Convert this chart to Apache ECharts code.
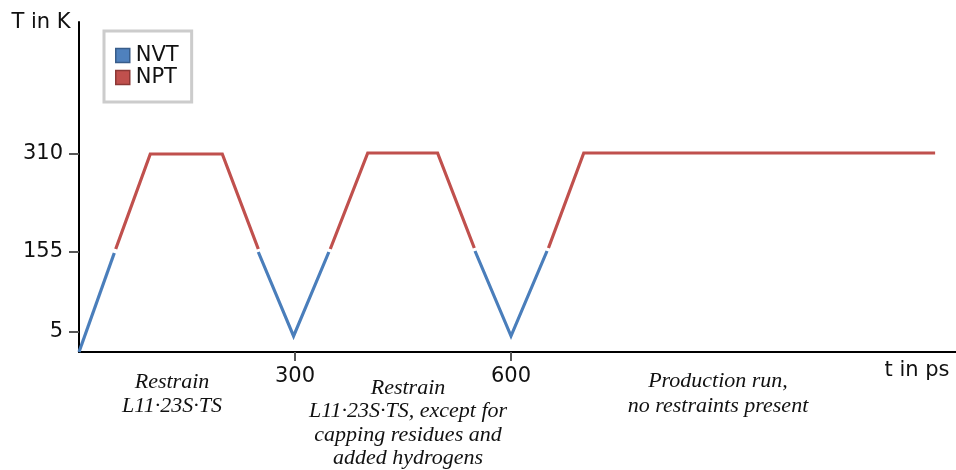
<!DOCTYPE html>
<html>
<head>
<meta charset="utf-8">
<script src="https://cdn.jsdelivr.net/npm/echarts@6/dist/echarts.min.js"></script>
<style>html,body{margin:0;padding:0;background:#fff}#c{width:956px;height:470px}</style>
</head>
<body>
<div id="c"></div>
<script>
// Schematic temperature protocol. The y axis of the original is a schematic
// (not linear in K); heights are read in drawn axis units, ticks labelled in K.
const xTickValues = [300, 600];
const xTickLabels = ['300', '600'];
const yTickLevels = [20, 100, 198.5];
const yTickLabels = ['5', '155', '310'];

// NVT segments: [t in ps, drawn level]
const nvtSeg1 = [[0, 0], [49, 99]];
const nvtSeg2 = [[249, 100], [298, 16], [347, 100]];
const nvtSeg3 = [[550, 101], [600, 16], [650, 101]];
// NPT segments
const nptSeg1 = [[51, 103], [99, 198], [199, 198], [249, 103]];
const nptSeg2 = [[349, 103], [401, 199], [498, 199], [549, 104]];
const nptSeg3 = [[652, 104], [701, 199], [1189, 199]];

const nvtSegments = [nvtSeg1, nvtSeg2, nvtSeg3];
const nptSegments = [nptSeg1, nptSeg2, nptSeg3];

const NVT_COLOR = '#4a7ebb';
const NPT_COLOR = '#c0504d';

const series = [];
nvtSegments.forEach(seg => series.push({
  name: 'NVT', type: 'line', data: seg, symbol: 'none', silent: true,
  lineStyle: { color: NVT_COLOR, width: 3.2, join: 'miter', cap: 'butt' },
  itemStyle: { color: NVT_COLOR }
}));
nptSegments.forEach(seg => series.push({
  name: 'NPT', type: 'line', data: seg, symbol: 'none', silent: true,
  lineStyle: { color: NPT_COLOR, width: 3.2, join: 'miter', cap: 'butt' },
  itemStyle: { color: NPT_COLOR }
}));

const sans = 'DejaVu Sans';
const serifItalic = 'italic 22px "Liberation Serif"';

const chart = echarts.init(document.getElementById('c'), null, { renderer: 'canvas' });
chart.setOption({
  animation: false,
  backgroundColor: '#ffffff',
  grid: { left: 79, right: 0, top: 22, bottom: 118, containLabel: false },
  xAxis: {
    type: 'value', min: 0, max: 1218,
    axisLine: { show: true, onZero: false, lineStyle: { color: '#000', width: 2 } },
    axisTick: { show: true, customValues: xTickValues, length: 9, lineStyle: { color: '#555', width: 2 } },
    axisLabel: {
      show: true, customValues: xTickValues, margin: 14,
      formatter: v => xTickLabels[xTickValues.indexOf(v)] || '',
      fontFamily: sans, fontSize: 21, color: '#111'
    },
    splitLine: { show: false }
  },
  yAxis: {
    type: 'value', min: 0, max: 330,
    axisLine: { show: true, onZero: false, lineStyle: { color: '#000', width: 2 } },
    axisTick: { show: true, customValues: yTickLevels, length: 10, lineStyle: { color: '#555', width: 2 } },
    axisLabel: {
      show: true, customValues: yTickLevels, margin: 16,
      formatter: v => yTickLabels[yTickLevels.indexOf(v)] || '',
      fontFamily: sans, fontSize: 21, color: '#111'
    },
    splitLine: { show: false }
  },
  legend: {
    left: 104, top: 31, orient: 'vertical',
    padding: [14, 13, 14, 11], itemGap: 1,
    itemWidth: 14, itemHeight: 14,
    borderColor: '#cccccc', borderWidth: 3,
    textStyle: { fontFamily: sans, fontSize: 21, color: '#111', padding: [0, 0, 0, 1] },
    selectedMode: false,
    data: [
      { name: 'NVT', icon: 'rect', itemStyle: { color: '#4f81bd', borderColor: '#385d8a', borderWidth: 1.5 } },
      { name: 'NPT', icon: 'rect', itemStyle: { color: '#c0504d', borderColor: '#8c3836', borderWidth: 1.5 } }
    ]
  },
  graphic: [
    { type: 'text', x: 41, y: 23, silent: true,
      style: { text: 'T in K', font: '21px "DejaVu Sans"', fill: '#111', textAlign: 'center', textVerticalAlign: 'middle' } },
    { type: 'text', x: 917, y: 371, silent: true,
      style: { text: 't in ps', font: '21px "DejaVu Sans"', fill: '#111', textAlign: 'center', textVerticalAlign: 'middle' } },
    { type: 'text', x: 172, y: 394, silent: true,
      style: { text: 'Restrain\nL11·23S·TS', font: serifItalic, lineHeight: 24, fill: '#111', textAlign: 'center', textVerticalAlign: 'middle' } },
    { type: 'text', x: 408, y: 423, silent: true,
      style: { text: 'Restrain\nL11·23S·TS, except for\ncapping residues and\nadded hydrogens', font: serifItalic, lineHeight: 23.5, fill: '#111', textAlign: 'center', textVerticalAlign: 'middle' } },
    { type: 'text', x: 718, y: 394, silent: true,
      style: { text: 'Production run,\nno restraints present', font: serifItalic, lineHeight: 25, fill: '#111', textAlign: 'center', textVerticalAlign: 'middle' } }
  ],
  series: series
});
</script>
</body>
</html>
